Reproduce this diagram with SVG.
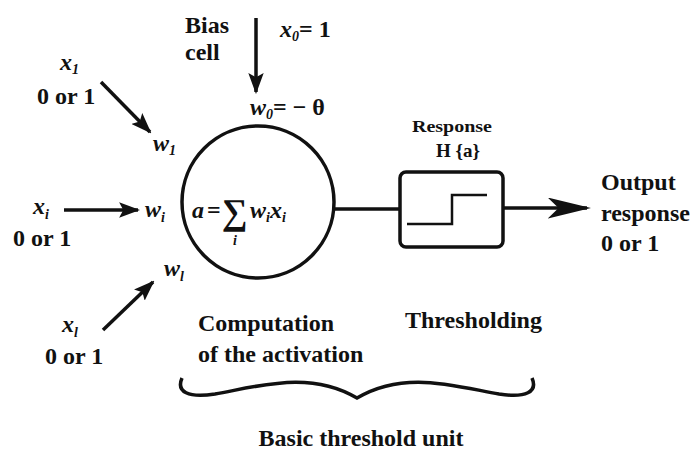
<svg xmlns="http://www.w3.org/2000/svg" width="695" height="458" viewBox="0 0 695 458">
<defs>
<style>
text{font-family:"Liberation Serif","Times New Roman",serif;font-weight:bold;fill:#111;}
.t{font-size:24px;}
.m{font-size:24px;font-style:italic;}
.s{font-size:14px;font-style:italic;}
.ln{stroke:#111;stroke-width:3.5;fill:none;}
</style>
<marker id="ah" viewBox="0 0 10 10" preserveAspectRatio="none" refX="9" refY="5" markerWidth="6" markerHeight="4.4" orient="auto" markerUnits="strokeWidth">
<path d="M0,0 L10,5 L0,10 L2,5 Z" fill="#111"/>
</marker>
<marker id="ahb" viewBox="0 0 10 10" preserveAspectRatio="none" refX="9" refY="5" markerWidth="12.5" markerHeight="6" orient="auto" markerUnits="strokeWidth">
<path d="M0,0 L10,5 L0,10 L2.5,5 Z" fill="#111"/>
</marker>
</defs>
<rect width="695" height="458" fill="#fff"/>

<g id="connectors">
<line class="ln" x1="256" y1="18" x2="256" y2="92" marker-end="url(#ah)"/>
<line class="ln" x1="101" y1="82" x2="150" y2="132" marker-end="url(#ah)"/>
<line class="ln" x1="64" y1="210" x2="138" y2="210" marker-end="url(#ah)"/>
<line class="ln" x1="103" y1="330" x2="153" y2="282" marker-end="url(#ah)"/>
<line class="ln" x1="335" y1="209" x2="400" y2="209"/>
<line class="ln" x1="503" y1="208" x2="587" y2="208" marker-end="url(#ahb)"/>
<path class="ln" stroke-width="2.5" d="M182,378 C176,392 188,398 215,394 C260,386 310,370 357,398 C404,370 454,386 499,394 C526,398 538,392 532,378"/>
</g>

<g id="bias">
<text class="t" x="185" y="33">Bias</text>
<text class="t" x="185" y="60">cell</text>
<text class="m" x="280" y="37">x<tspan class="s" dy="4">0</tspan><tspan dy="-4" font-style="normal">= 1</tspan></text>
</g>

<g id="input1">
<text class="m" x="60" y="70">x<tspan class="s" dy="4">1</tspan></text>
<text class="t" x="37" y="104">0 or 1</text>
<text class="m" x="153" y="151">w<tspan class="s" dy="4">1</tspan></text>
</g>

<g id="inputi">
<text class="m" x="33" y="214">x<tspan class="s" dy="5">i</tspan></text>
<text class="t" x="13" y="246">0 or 1</text>
<text class="m" x="145" y="217">w<tspan class="s" dy="5">i</tspan></text>
</g>

<g id="inputl">
<text class="m" x="164" y="276">w<tspan class="s" dy="5">l</tspan></text>
<text class="m" x="62" y="332">x<tspan class="s" dy="5">l</tspan></text>
<text class="t" x="45" y="364">0 or 1</text>
</g>

<g id="neuron">
<circle class="ln" cx="258" cy="202" r="76"/>
<text class="m" x="250" y="115">w<tspan class="s" dy="4">0</tspan><tspan dy="-4" font-style="normal">= − θ</tspan></text>
<text class="m" x="192" y="218">a</text>
<text class="t" x="207" y="218">=</text>
<text x="222" y="224" font-size="36">∑</text>
<text class="s" x="233" y="245" font-size="12">i</text>
<text class="m" x="250" y="218">w<tspan class="s" dy="4">i</tspan><tspan dy="-4">x</tspan><tspan class="s" dy="4">i</tspan></text>
<text class="t" x="198" y="331">Computation</text>
<text class="t" x="198" y="362">of the activation</text>
</g>

<g id="threshold">
<rect class="ln" x="400" y="172" width="103" height="75" rx="6"/>
<polyline points="407,224 452,224 452,195 487,195" fill="none" stroke="#111" stroke-width="2.5"/>
<text x="452" y="132" font-size="17" text-anchor="middle" textLength="80" lengthAdjust="spacingAndGlyphs">Response</text>
<text x="458" y="157" font-size="19" text-anchor="middle">H {a}</text>
<text class="t" x="405" y="328">Thresholding</text>
</g>

<g id="output">
<text class="t" x="601" y="190">Output</text>
<text class="t" x="601" y="221">response</text>
<text class="t" x="601" y="251">0 or 1</text>
</g>

<g id="unit">
<text class="t" x="361" y="446" text-anchor="middle" font-size="27">Basic threshold unit</text>
</g>
</svg>
